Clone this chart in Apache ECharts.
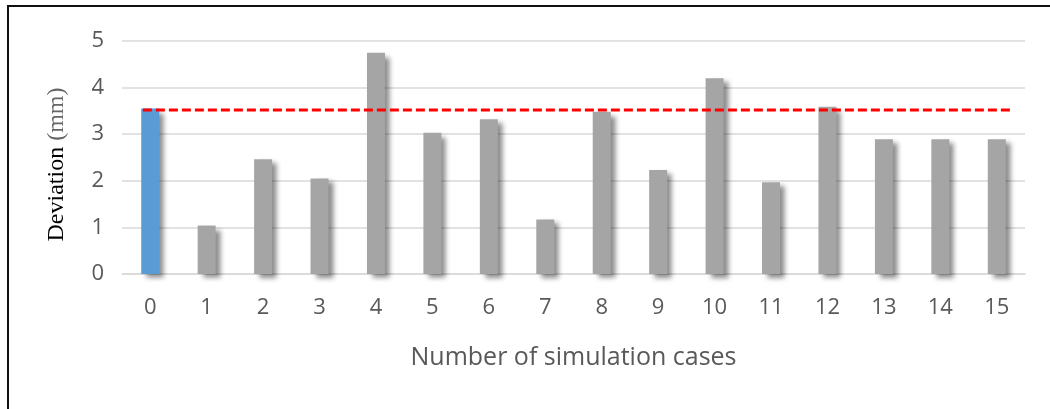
<!DOCTYPE html>
<html>
<head>
<meta charset="utf-8">
<script src="https://cdn.jsdelivr.net/npm/echarts@6/dist/echarts.min.js"></script>
<style>
html,body{margin:0;padding:0;background:#fff;}
#chart{width:1050px;height:409px;}
</style>
</head>
<body>
<div id="chart"></div>
<script>
const categories = ['0','1','2','3','4','5','6','7','8','9','10','11','12','13','14','15'];
const deviations = [3.55, 1.04, 2.46, 2.05, 4.75, 3.03, 3.32, 1.17, 3.48, 2.23, 4.2, 1.97, 3.59, 2.89, 2.89, 2.89];
const highlightIndex = 0;
const thresholdValue = 3.52;
const thresholdSpan = [-0.13, 15.3];
const yTicks = [0, 1, 2, 3, 4, 5];

const chart = echarts.init(document.getElementById('chart'), null, {renderer: 'canvas'});
const tickColor = '#595959';
const option = {
  animation: false,
  backgroundColor: '#fff',
  graphic: [{
    type: 'rect', z: 100,
    shape: {x: 8, y: 6, width: 1200, height: 600},
    style: {fill: 'none', stroke: '#111', lineWidth: 2}
  }],
  grid: {left: 122, right: 25, top: 41, bottom: 135},
  xAxis: [{
    type: 'category',
    data: categories,
    boundaryGap: true,
    name: 'Number of simulation cases',
    nameLocation: 'middle',
    nameGap: 71,
    nameTextStyle: {color: tickColor, fontSize: 25, fontFamily: 'Open Sans'},
    axisLine: {show: true, lineStyle: {color: '#d9d9d9', width: 1.5}},
    axisTick: {show: false},
    axisLabel: {color: tickColor, fontSize: 22, fontFamily: 'Open Sans', margin: 23}
  }, {
    type: 'value', show: false, min: -0.5, max: 15.5
  }],
  yAxis: {
    type: 'value',
    min: yTicks[0], max: yTicks[yTicks.length - 1], interval: 1,
    name: '{a|Deviation} {b|(mm)}',
    nameLocation: 'middle',
    nameGap: 53,
    nameRotate: 90,
    nameTextStyle: {
      fontFamily: 'Liberation Serif', fontSize: 24, color: '#000',
      padding: [0, 14, 0, 0],
      rich: {
        a: {fontFamily: 'Liberation Serif', fontSize: 24, color: '#000', fontWeight: 'normal'},
        b: {fontFamily: 'Liberation Serif', fontSize: 24, color: '#666', fontWeight: 'normal'}
      }
    },
    axisLine: {show: false},
    axisTick: {show: false},
    splitLine: {lineStyle: {color: '#d9d9d9', width: 1.5}},
    axisLabel: {color: tickColor, fontSize: 22, fontFamily: 'Open Sans', margin: 18}
  },
  series: [{
    type: 'bar',
    barWidth: 18,
    data: deviations.map((v, i) => ({
      value: v,
      itemStyle: {color: i === highlightIndex ? '#5b9bd5' : '#a5a5a5'}
    })),
    itemStyle: {
      shadowColor: 'rgba(0,0,0,0.45)',
      shadowBlur: 5,
      shadowOffsetX: 5,
      shadowOffsetY: 4
    },
    z: 2
  }, {
    type: 'line',
    xAxisIndex: 1,
    data: thresholdSpan.map(x => [x, thresholdValue]),
    symbol: 'none',
    lineStyle: {color: '#ff0000', width: 3, type: [9, 4]},
    z: 5
  }]
};
chart.setOption(option);
</script>
</body>
</html>
